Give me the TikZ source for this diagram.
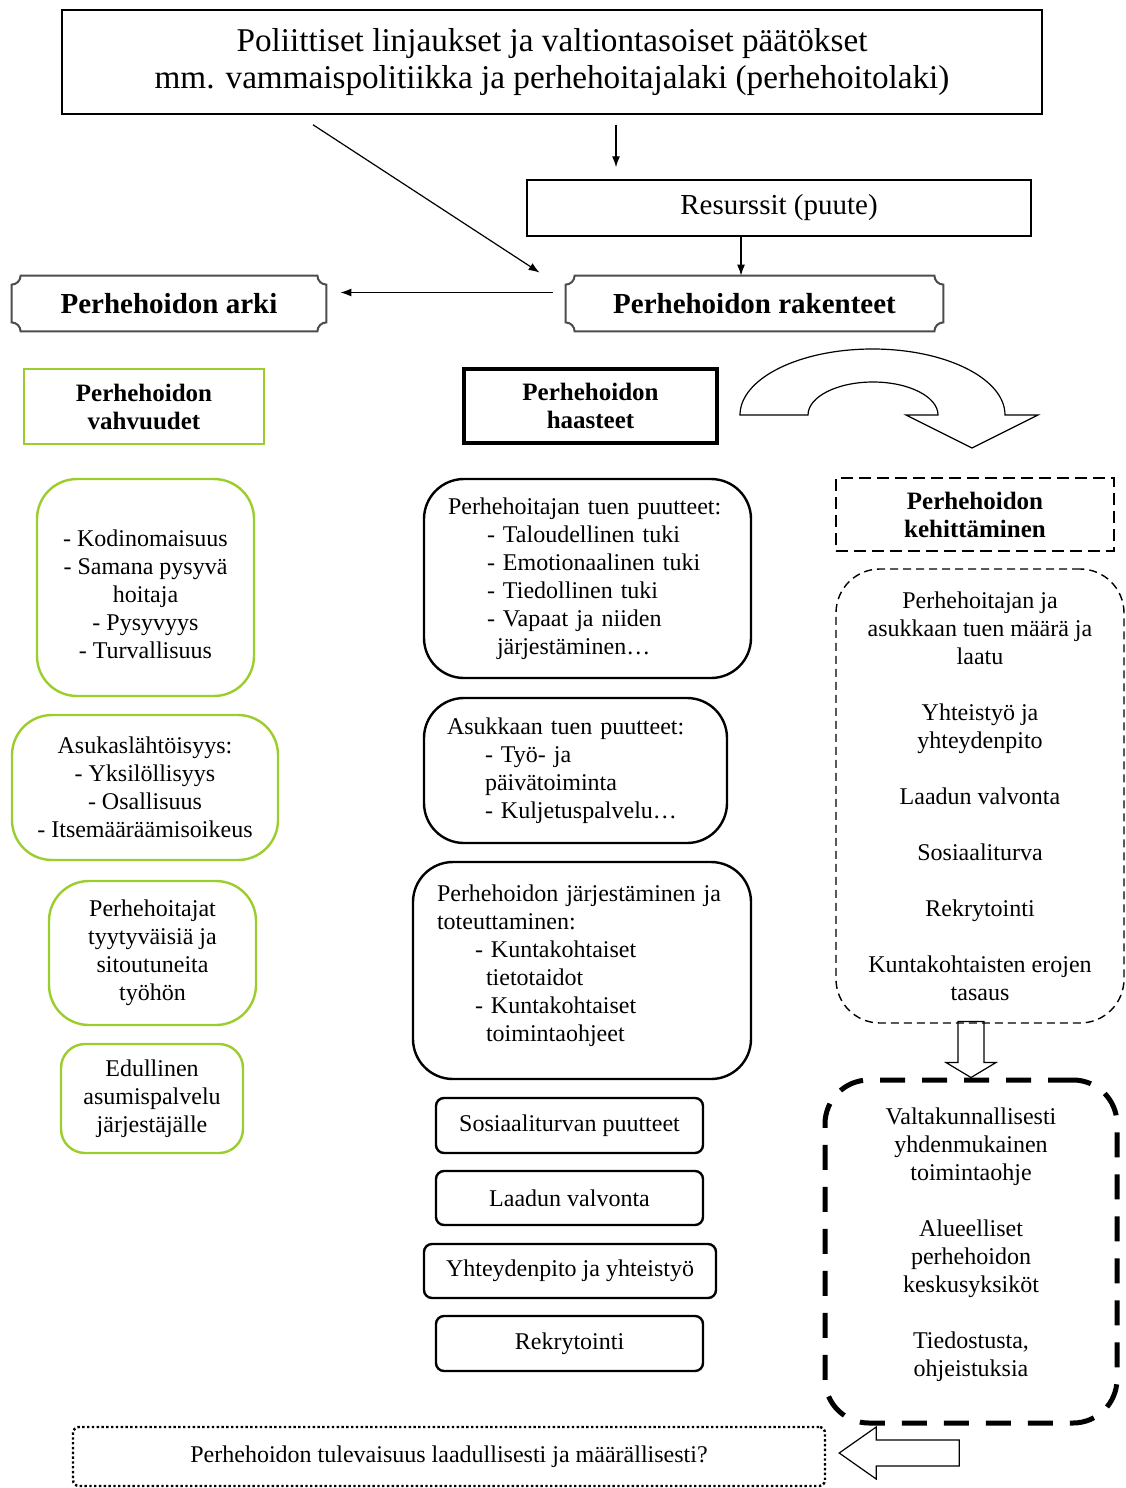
\documentclass[tikz,border=0pt]{standalone}
\usepackage{fontspec}
\setmainfont{Liberation Serif}
\usepackage{tikz}
\usetikzlibrary{arrows.meta, calc}

\definecolor{vgreen}{RGB}{155,205,45}

% frame with inward (concave) corners round a named node
\newcommand\plaqueframe[1]{%
  \draw[line width=1pt, draw=black!70] ([xshift=4.5pt]#1.north west) -- ([xshift=-4.5pt]#1.north east)
    arc[start angle=180, end angle=270, radius=4.5pt] -- ([yshift=4.5pt]#1.south east)
    arc[start angle=90, end angle=180, radius=4.5pt] -- ([xshift=4.5pt]#1.south west)
    arc[start angle=0, end angle=90, radius=4.5pt] -- ([yshift=-4.5pt]#1.north west)
    arc[start angle=270, end angle=360, radius=4.5pt] -- cycle;}

\begin{document}
\begin{tikzpicture}[
  x=0.5pt, y=0.5pt,
  every node/.style={inner sep=0pt},
  body/.style={font=\fontsize{12}{14}\selectfont},
  head/.style={font=\bfseries\fontsize{12.5}{14}\selectfont, align=center},
  plainbox/.style={draw, line width=0.75pt},
  plaque/.style={font=\bfseries\fontsize{14.5}{17}\selectfont},
  greenbox/.style={body, draw=vgreen, line width=1.2pt, rounded corners=20pt, align=center},
  gapbox/.style={body, draw, line width=1.2pt, rounded corners=20pt, align=left},
  itembox/.style={body, draw, line width=1.2pt, rounded corners=4pt},
  blockarrow/.style={line width=0.6pt},
  >={Latex[length=5.5pt, width=4pt]}
]
  \useasboundingbox (0,0) rectangle (1125,-1488);

  % top of the chart
  \node[plainbox, font=\fontsize{16.6}{18.5}\selectfont, align=center, minimum width=490pt, minimum height=52pt] (policy) at (552,-62)
    {Poliittiset linjaukset ja valtiontasoiset päätökset\\mm. vammaispolitiikka ja perhehoitajalaki (perhehoitolaki)};
  \node[plainbox, font=\fontsize{14.5}{17}\selectfont, minimum width=252pt, minimum height=28pt] (res) at (779,-208) {Resurssit (puute)};
  \node[plaque, minimum width=188.5pt, minimum height=27.5pt] (rak) at (754.5,-303.5) {Perhehoidon rakenteet};
  \node[plaque, minimum width=157pt, minimum height=27.5pt] (arki) at (169,-303.5) {Perhehoidon arki};
  \plaqueframe{rak}
  \plaqueframe{arki}

  \draw[->, line width=0.6pt, shorten <=5pt, shorten >=6pt] ([xshift=32pt]policy.south) -- ([xshift=32pt]policy.south |- res.north);
  \draw[->, line width=0.6pt] ([xshift=-119.5pt,yshift=-5pt]policy.south) -- ([xshift=-13pt,yshift=1.5pt]rak.north west);
  \draw[->, line width=0.6pt] ([xshift=-19pt]res.south) -- ([xshift=-19pt]res.south |- rak.north);
  \draw[->, line width=0.6pt, shorten <=6.5pt, shorten >=7pt] ([yshift=5.5pt]rak.west) -- ([yshift=5.5pt]arki.east);

  % column headings
  \node[head, draw=vgreen, line width=1.2pt, minimum width=120pt, minimum height=37.5pt] (vahv) at (144,-406.5) {Perhehoidon\\vahvuudet};
  \node[head, draw, line width=2.2pt, minimum width=126.5pt, minimum height=37pt] (haast) at (590.5,-406) {Perhehoidon\\haasteet};
  \node[head, draw, line width=1pt, dash pattern=on 6pt off 3pt, minimum width=139pt, minimum height=36.5pt] (keh) at (975,-514.5) {Perhehoidon\\kehittäminen};

  % curved arrow
  \draw[blockarrow] (740,-415) arc[start angle=180, end angle=0, x radius=132.5, y radius=66]
    -- (1038,-415) -- (972,-448) -- (906,-415) -- (938,-415)
    arc[start angle=0, end angle=180, x radius=65, y radius=33] -- cycle;

  % strengths
  \node[greenbox, minimum width=108.5pt, minimum height=108.5pt] (vahv1) at (145.5,-587.5)
    {\rule{0pt}{15.2pt}- Kodinomaisuus\\- Samana pysyvä\\hoitaja\\- Pysyvyys\\- Turvallisuus};
  \node[greenbox, minimum width=133pt, minimum height=72.5pt] (vahv2) at (145,-787.5)
    {Asukaslähtöisyys:\\- Yksilöllisyys\\- Osallisuus\\- Itsemääräämisoikeus};
  \node[greenbox, minimum width=103.5pt, minimum height=72pt] (vahv3) at (152.5,-953)
    {Perhehoitajat\\tyytyväisiä ja\\sitoutuneita\\työhön};
  \node[greenbox, rounded corners=12pt, minimum width=91pt, minimum height=54.5pt] (vahv4) at (152,-1098.5)
    {Edullinen\\asumispalvelu\\järjestäjälle};

  % challenges
  \node[gapbox, text width=139.5pt, inner xsep=12pt, minimum height=99.5pt] (puute1) at (587.5,-578.5)
    {Perhehoitajan tuen puutteet:\\\hspace*{19.5pt}- Taloudellinen tuki\\\hspace*{19.5pt}- Emotionaalinen tuki\\\hspace*{19.5pt}- Tiedollinen tuki\\\hspace*{19.5pt}- Vapaat ja niiden\\\hspace*{24.5pt}järjestäminen\ldots};
  \node[gapbox, text width=128.5pt, inner xsep=11.5pt, minimum height=72.5pt] (puute2) at (575.5,-770.5)
    {Asukkaan tuen puutteet:\\\hspace*{19pt}- Työ- ja\\\hspace*{19pt}päivätoiminta\\\hspace*{19pt}- Kuljetuspalvelu\ldots};
  \node[gapbox, text width=145pt, inner xsep=12pt, minimum height=108.5pt] (puute3) at (582,-970.5)
    {Perhehoidon järjestäminen ja\\toteuttaminen:\\\hspace*{19pt}- Kuntakohtaiset\\\hspace*{24.5pt}tietotaidot\\\hspace*{19pt}- Kuntakohtaiset\\\hspace*{24.5pt}toimintaohjeet\rule[-7pt]{0pt}{0pt}};
  \node[itembox, minimum width=133.5pt, minimum height=27.5pt] (sos) at (569.5,-1125.5) {Sosiaaliturvan puutteet};
  \node[itembox, minimum width=133.5pt, minimum height=27pt] (laatu) at (569.5,-1198) {Laadun valvonta};
  \node[itembox, minimum width=146pt, minimum height=27pt] (yhteys) at (570,-1271) {Yhteydenpito ja yhteistyö};
  \node[itembox, minimum width=133.5pt, minimum height=27.5pt] (rekry) at (569.5,-1343.5) {Rekrytointi};

  % development
  \node[body, align=center, draw, line width=0.7pt, dash pattern=on 4pt off 2.5pt, rounded corners=22pt, minimum width=144pt, minimum height=227pt] (kehlista) at (980,-796)
    {Perhehoitajan ja\\asukkaan tuen määrä ja\\laatu\\[14pt]Yhteistyö ja\\yhteydenpito\\[14pt]Laadun valvonta\\[14pt]Sosiaaliturva\\[14pt]Rekrytointi\\[14pt]Kuntakohtaisten erojen\\tasaus};
  \node[body, align=center, draw, line width=2.5pt, dash pattern=on 12.5pt off 8.5pt, rounded corners=22pt, minimum width=146pt, minimum height=171.5pt] (keino) at (971,-1251.5)
    {Valtakunnallisesti\\yhdenmukainen\\toimintaohje\\[14pt]Alueelliset\\perhehoidon\\keskusyksiköt\\[14pt]Tiedostusta,\\ohjeistuksia\rule[-9pt]{0pt}{0pt}};
  \node[body, draw, line width=1.2pt, dash pattern=on 1.2pt off 1.2pt, rounded corners=3pt, minimum width=376pt, minimum height=29.5pt] (tulev) at (449,-1456.5)
    {Perhehoidon tulevaisuus laadullisesti ja määrällisesti?};

  % hollow arrows
  \draw[blockarrow] (keino.north) -- ++(25,15) -- ++(-12,0) -- ++(0,41) -- ++(-26,0) -- ++(0,-41) -- ++(-12,0) -- cycle;
  \coordinate (ltip) at ([xshift=6.5pt,yshift=1.75pt]tulev.east);
  \draw[blockarrow] (ltip) -- ++(37,26) -- ++(0,-13) -- ++(83,0) -- ++(0,-26) -- ++(-83,0) -- ++(0,-13) -- cycle;
\end{tikzpicture}
\end{document}
